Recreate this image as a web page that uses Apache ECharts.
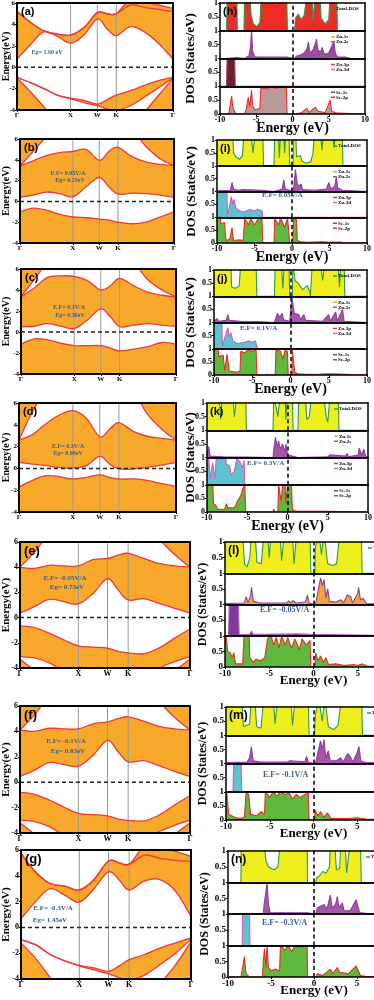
<!DOCTYPE html>
<html>
<head>
<meta charset="utf-8">
<script src="https://cdn.jsdelivr.net/npm/echarts@6/dist/echarts.min.js"></script>
<style>
  html, body { margin: 0; padding: 0; background: #fff; }
  #chart { width: 374px; height: 1000px; }
</style>
</head>
<body>
<div id="chart"></div>
<script>
// ---- band structure: k-path Γ-X-W-K-Γ ----
var kPath = [0, 0.25, 0.5, 0.75, 1, 1.25, 1.5, 1.68, 1.854, 2.12, 2.38, 2.65, 2.914];
var kTicks = [0, 1, 1.5, 1.854, 2.914];
var kNames = ['Γ', 'X', 'W', 'K', 'Γ'];

// (a) pristine
var a_c1 = [0.75, 2.1, 3.3, 2.9, 2.25, 3.0, 4.5, 3.6, 2.95, 3.8, 3.3, 2.2, 0.75];
var a_c2 = [5.2, 4.2, 3.4, 3.1, 3.0, 3.7, 5.1, 5.0, 5.0, 5.8, 5.6, 5.4, 5.2];
var a_c3 = [5.2, 4.2, 3.4, 3.1, 3.0, 3.7, 5.1, 5.0, 5.0, 6.3, 6.1, 5.8, 5.5];
var a_v1 = [-0.94, -1.45, -2.0, -2.6, -2.9, -3.1, -3.45, -3.05, -2.6, -2.2, -1.7, -1.25, -0.94];
var a_v2 = [-1.0, -2.3, -3.7, -5.2, -6.5, -7, -7, -7, -7, -5.8, -4.2, -2.6, -1.05];
var a_v3 = [-0.94, -1.45, -2.0, -2.6, -2.95, -3.3, -3.6, -3.9, -4.05, -3.6, -2.8, -1.9, -1.0];
// (b) E.F = 0.05 V/A
var b_c1 = [0.4, 0.6, 0.9, 0.75, 0.45, 1.4, 2.3, 1.4, 0.7, 0.8, 0.75, 0.6, 0.4];
var b_c2 = [3.4, 3.9, 4.4, 4.7, 4.8, 5.0, 3.95, 4.8, 5.2, 4.3, 3.8, 3.55, 3.45];
var b_c3 = [3.4, 4.8, 6.2, 7, 7, 7, 7, 7, 7, 6.8, 5.3, 4.1, 3.45];
var b_v1 = [-1.0, -0.65, -0.85, -1.25, -1.5, -1.57, -1.7, -1.8, -2.0, -2.15, -2.0, -1.5, -1.0];
// (c) E.F = 0.1 V/A
var c_c1 = [0.5, 0.55, 0.8, 0.55, 0.33, 1.15, 2.2, 1.45, 0.5, 0.65, 0.8, 0.65, 0.55];
var c_c2 = [3.35, 4.2, 5.2, 5.35, 5.3, 4.9, 4.0, 4.4, 5.1, 4.4, 3.8, 3.5, 3.35];
var c_c3 = [3.35, 5.0, 6.6, 7, 7, 7, 7, 7, 7, 6.6, 5.0, 4.0, 3.35];
var c_v1 = [-1.15, -0.65, -0.75, -1.07, -1.3, -1.3, -1.3, -1.53, -1.8, -1.63, -1.4, -1.0, -1.15];
// (d) E.F = 0.3 V/A
var d_c1 = [0.55, 0.4, 0.25, 0.1, 0.03, 0.25, 1.1, 0.4, -0.05, -0.05, 0.1, 0.3, 0.55];
var d_c2 = [2.6, 3.1, 4.1, 4.9, 5.3, 4.6, 2.9, 3.6, 4.2, 3.4, 2.95, 2.75, 2.6];
var d_c3 = [2.6, 5.2, 7, 7, 7, 7, 7, 7, 7, 7, 5.0, 3.6, 2.6];
var d_v1 = [-1.7, -1.1, -0.67, -0.76, -0.97, -0.82, -0.6, -0.82, -0.97, -0.97, -1.1, -1.4, -1.65];
// (e) E.F = -0.05 V/A
var e_c1 = [0.35, 0.87, 1.45, 1.26, 1.08, 1.9, 3.1, 2.2, 1.4, 1.5, 1.13, 0.74, 0.35];
var e_c2 = [4.0, 3.9, 4.15, 4.1, 4.1, 4.6, 4.7, 4.95, 5.1, 4.7, 4.3, 4.1, 4.0];
var e_c3 = [4.0, 5.2, 6.6, 7, 7, 7, 7, 7, 7, 7, 6.2, 5.0, 4.0];
var e_v1 = [-0.66, -0.8, -1.24, -1.76, -2.24, -2.34, -2.42, -2.68, -2.8, -2.87, -2.42, -1.63, -0.9];
var e_v2 = [-3.1, -3.2, -3.6, -4.3, -5, -5, -5, -5, -5, -4.6, -4.0, -3.5, -3.1];
var e_v3 = [-3.3, -4.2, -5, -6, -6, -6, -6, -6, -6, -6, -5, -4.2, -3.3];
// (f) E.F = -0.1 V/A
var f_c1 = [0.45, 0.95, 1.55, 1.4, 1.25, 2.1, 3.3, 2.4, 1.6, 1.7, 1.3, 0.85, 0.45];
var f_c2 = [4.1, 4.0, 4.25, 4.2, 4.2, 4.6, 4.75, 5.0, 5.15, 4.8, 4.4, 4.2, 4.1];
var f_c3 = [4.1, 5.3, 6.7, 7, 7, 7, 7, 7, 7, 7, 6.3, 5.1, 4.1];
var f_v1 = [-0.8, -0.95, -1.4, -1.95, -2.45, -2.55, -2.65, -2.9, -3.0, -3.05, -2.6, -1.8, -1.05];
var f_v2 = [-3.0, -3.1, -3.5, -4.2, -5, -5, -5, -5, -5, -4.5, -3.9, -3.4, -3.0];
var f_v3 = [-3.2, -4.1, -5, -6, -6, -6, -6, -6, -6, -6, -5, -4.1, -3.2];
// (g) E.F = -0.3 V/A
var g_c1 = [0.67, 2.0, 3.0, 2.5, 1.96, 3.0, 4.3, 3.7, 2.9, 3.6, 3.7, 2.8, 0.85];
var g_c2 = [5.75, 4.3, 3.4, 3.2, 2.9, 3.7, 5.15, 5.0, 4.9, 5.6, 5.35, 5.2, 5.1];
var g_c3 = [5.75, 4.3, 3.4, 3.2, 2.9, 3.7, 5.15, 5.0, 4.9, 6.3, 6.2, 5.9, 5.5];
var g_v1 = [-0.95, -1.34, -2.1, -2.6, -2.94, -3.14, -3.4, -3.0, -2.5, -2.1, -1.6, -1.2, -0.82];
var g_v2 = [-1.2, -2.4, -3.9, -5.5, -7, -7, -7, -7, -7, -6, -4.4, -2.9, -1.1];
var g_v3 = [-0.95, -1.34, -2.1, -2.6, -2.98, -3.3, -3.6, -3.9, -4.1, -3.7, -2.9, -2.0, -0.95];

// ---- DOS: [energy (eV), states/eV] ----
var h_tot = [[-10,0],[-9.1,0],[-9.0,1.3],[-7.7,1.3],[-7.6,0],[-6.7,0],[-6.6,1.3],[-5.9,1.3],[-5.7,0.55],[-5.4,0.25],[-4.9,0.15],[-4.5,0.3],[-4.3,1.3],[-0.8,1.3],[-0.7,0],[0.3,0],[0.4,0.45],[0.8,0.6],[1.2,0.4],[1.6,0.55],[2.0,1.3],[2.7,1.3],[2.8,0.35],[3.0,0.3],[3.15,1.3],[3.8,1.3],[3.95,0.45],[4.5,0.25],[5.0,0.4],[5.2,1.3],[6.1,1.3],[6.2,0],[10,0]];
var h_zn = [[-10,0],[-9.1,0],[-9.0,0.03],[-7.7,0.03],[-7.6,0],[-6.6,0],[-6.5,0.05],[-6.0,0.1],[-5.8,0.4],[-5.65,1.0],[-5.5,0.25],[-5.2,0.06],[-4.3,0.05],[-0.8,0.05],[-0.7,0],[0.3,0],[0.5,0.08],[1.0,0.12],[1.6,0.2],[2.0,0.35],[2.2,0.6],[2.4,0.2],[2.8,0.3],[3.1,0.5],[3.3,0.7],[3.5,0.3],[3.9,0.25],[4.1,0.4],[4.4,0.15],[5.0,0.2],[5.5,0.5],[5.7,0.6],[5.9,0.2],[6.2,0.05],[7.3,0.05],[7.5,0.12],[7.7,0.03],[8,0],[10,0]];
var h_zn3 = [[-10,0],[-9.1,0],[-9.0,1.3],[-8.0,1.3],[-7.9,0],[10,0]];
var h_se = [[-10,0],[-8.8,0],[-8.6,0.3],[-8.4,0.65],[-8.2,0.2],[-8.0,0.1],[-7.8,0],[-6.6,0],[-6.4,0.15],[-6.1,0.6],[-5.9,0.25],[-5.65,0.85],[-5.5,0.3],[-5.2,0.15],[-4.5,0.2],[-4.35,0.95],[-3.5,0.9],[-3.0,0.97],[-2.2,0.93],[-1.5,0.97],[-0.85,1.0],[-0.75,0],[0.35,0],[0.5,0.06],[1.2,0.04],[2.0,0.2],[2.3,0.05],[3.15,0.25],[3.5,0.1],[4.5,0.05],[5.2,0.5],[5.4,0.1],[6.2,0.03],[8,0.02],[10,0]];

var i_tot = [[-10,1.3],[-7.9,1.3],[-7.8,0.5],[-7.5,0.35],[-7.0,0.25],[-6.6,0.4],[-6.4,1.3],[-5.5,1.3],[-5.2,0.5],[-4.9,1.3],[-3.9,1.3],[-3.8,0],[-2.4,0],[-2.3,1.3],[-1.8,1.3],[-1.7,0.3],[-1.5,1.3],[-1.1,1.3],[-1.0,0.5],[-0.8,1.3],[-0.4,1.3],[-0.3,0],[0.15,0],[0.2,1.3],[0.5,1.3],[0.6,0.35],[1.1,0.4],[1.3,0.2],[1.8,0.1],[2.5,0.15],[2.8,0.5],[3.0,1.3],[3.8,1.3],[4.0,0.6],[4.2,1.3],[5.4,1.3],[5.6,0.7],[5.8,1.3],[6.7,1.3],[6.8,0],[10,0]];
var i_zn = [[-10,0.03],[-8.2,0.05],[-8.0,0.35],[-7.8,0.1],[-7.3,0.05],[-6.5,0.08],[-4,0.05],[-3.9,0],[-2.4,0],[-2.3,0.05],[-1.3,0.1],[-1.1,0.45],[-0.9,0.1],[-0.3,0.05],[-0.25,0],[0.15,0],[0.25,0.2],[0.45,0.85],[0.7,0.3],[1.0,0.2],[1.2,0.3],[1.4,0.08],[3,0.05],[4.6,0.1],[4.9,0.35],[5.2,0.1],[5.7,0.2],[5.9,0.55],[6.1,0.15],[6.7,0.05],[6.8,0],[10,0]];
var i_zn3 = [[-10,1.3],[-8.7,1.3],[-8.6,0.1],[-8.4,0.3],[-8.1,0.8],[-7.9,0.5],[-7.7,0.7],[-7.5,0.35],[-7.0,0.25],[-6.5,0.2],[-6.0,0.25],[-5.5,0.3],[-5.0,0.25],[-4.5,0.3],[-4.0,0.25],[-3.9,0],[10,0]];
var i_se = [[-10,1.3],[-9.6,1.3],[-9.5,0.75],[-9.0,0.8],[-8.8,0.1],[-8.3,0.15],[-8.0,0.6],[-7.8,0.1],[-7.0,0.12],[-6.5,0.1],[-6.3,0.95],[-5.8,0.7],[-5.5,0.95],[-5.0,0.7],[-4.5,0.95],[-4.0,0.9],[-3.9,0],[-2.4,0],[-2.3,0.95],[-1.8,0.7],[-1.5,0.97],[-1.0,0.6],[-0.6,0.95],[-0.4,0.9],[-0.3,0],[0.1,0],[0.2,0.95],[0.6,0.9],[0.7,0.1],[1.2,0.05],[2,0.03],[4,0.05],[5,0.03],[6.5,0.04],[6.8,0],[10,0]];

var j_tot = [[-10,1.3],[-7.8,1.3],[-7.7,0.35],[-7.2,0.3],[-6.7,0.4],[-6.5,1.3],[-4.5,1.3],[-4.4,0],[-2.1,0],[-2.0,1.3],[-1.2,1.3],[-1.0,0.3],[-0.8,1.3],[-0.2,1.3],[-0.1,0],[0.25,0],[0.3,1.3],[0.6,0.6],[1.0,0.5],[1.6,0.25],[2.2,0.4],[2.5,0.2],[2.6,0],[2.8,0],[2.85,1.3],[3.9,1.3],[4.2,0.6],[4.5,1.3],[6.2,1.3],[6.4,0.35],[6.6,1.3],[7.0,1.3],[7.1,0],[10,0]];
var j_zn = [[-10,0.05],[-9.6,0.15],[-9.4,0.05],[-8.4,0.08],[-8.2,0.3],[-8.0,0.08],[-6.5,0.05],[-4.4,0.04],[-4.3,0],[-2.1,0],[-2.0,0.1],[-1.7,0.35],[-1.4,0.2],[-1.1,0.35],[-0.9,0.1],[-0.1,0.05],[0,0],[0.15,0],[0.2,0.95],[0.5,0.35],[1.1,0.3],[1.3,0.1],[1.75,0.3],[2.0,0.08],[4.2,0.05],[5.0,0.3],[5.2,0.05],[5.9,0.4],[6.1,0.05],[6.8,0.5],[7.0,0.05],[7.2,0],[10,0]];
var j_zn3 = [[-10,1.3],[-9.0,1.3],[-8.9,0.1],[-8.5,0.5],[-8.2,0.8],[-8.0,0.45],[-7.8,0.6],[-7.5,0.3],[-7.0,0.2],[-6.0,0.25],[-5.5,0.3],[-5.0,0.25],[-4.6,0.3],[-4.4,0.25],[-4.3,0],[10,0]];
var j_se = [[-10,1.3],[-9.5,1.3],[-9.4,0.7],[-8.8,0.75],[-8.6,0.15],[-8.3,0.8],[-8.0,0.15],[-7.0,0.1],[-6.6,0.15],[-6.5,0.9],[-6.0,0.85],[-5.5,0.95],[-5.0,0.9],[-4.5,0.95],[-4.4,0],[-2.0,0],[-1.9,0.95],[-1.3,0.9],[-1.0,0.6],[-0.7,0.95],[-0.4,0.9],[-0.3,0],[0.2,0],[0.25,0.95],[0.45,0.9],[0.55,0.1],[1,0.05],[2,0.03],[4,0.04],[5,0.05],[6.5,0.04],[8,0.02],[10,0]];

var k_tot = [[-10,1.3],[-8.5,1.3],[-8.3,0.4],[-8.1,1.3],[-6.8,1.3],[-6.6,0.5],[-6.3,1.3],[-5.2,1.3],[-5.1,0],[-1.8,0],[-1.7,1.3],[-1.2,0.5],[-0.9,1.3],[-0.3,1.3],[-0.2,0.4],[0,1.3],[0.6,1.3],[0.7,0],[1.3,0],[1.4,1.3],[2.2,1.3],[2.4,0.4],[2.7,0.5],[3.0,1.3],[4.5,1.3],[4.8,0.5],[5.0,0.3],[5.3,1.3],[6.3,1.3],[6.4,0],[10,0]];
var k_zn = [[-10,0.05],[-9.8,0.4],[-9.6,0.05],[-8,0.03],[-5.2,0.02],[-5.1,0],[-1.8,0],[-1.7,0.3],[-1.5,0.75],[-1.3,0.4],[-1.1,0.6],[-0.9,0.3],[-0.6,0.5],[-0.3,0.2],[-0.2,0.5],[0,0.1],[0.6,0.05],[0.7,0],[1.3,0],[1.4,0.03],[5,0.03],[5.3,0.1],[5.5,0.03],[7.2,0.05],[7.4,0.15],[7.6,0.03],[8.8,0.1],[8.9,0.35],[9.2,0.1],[9.5,0.3],[9.7,0.05],[10,0]];
var k_zn3 = [[-10,0.3],[-9.8,1.0],[-9.6,0.2],[-9.3,0.8],[-9.0,0.2],[-8.8,1.3],[-7.7,1.3],[-7.6,0.75],[-7.2,0.7],[-7.0,0.35],[-6.6,0.5],[-6.3,0.95],[-5.9,0.85],[-5.6,0.6],[-5.4,0.9],[-5.3,0],[10,0]];
var k_se = [[-10,1.3],[-9.3,1.3],[-9.2,0.3],[-8.9,0.25],[-8.7,0.1],[-7.8,0.1],[-7.6,0.3],[-7.4,0.15],[-6.6,0.15],[-6.2,0.4],[-5.8,0.6],[-5.5,0.9],[-5.3,1.0],[-5.2,0],[-1.8,0],[-1.7,0.1],[-1.6,0],[-1.2,0],[-1.1,1.0],[-0.8,0.4],[-0.6,1.0],[-0.3,0.95],[-0.2,0.3],[0,1.0],[0.5,1.0],[0.6,0.1],[1,0.03],[5,0.03],[10,0]];

var l_tot = [[-10,1.3],[-8.0,1.3],[-7.8,0.3],[-7.5,0.2],[-7.2,0.5],[-7.0,1.3],[-6.6,1.3],[-6.4,0.35],[-5.9,0.3],[-5.6,1.3],[-5.2,1.3],[-5.0,0.5],[-4.8,1.3],[-3.8,1.3],[-3.6,0.4],[-3.3,1.3],[-2.4,1.3],[-2.2,0.3],[-1.9,1.3],[-0.4,1.3],[-0.3,0],[0.15,0],[0.2,0.8],[0.6,1.3],[0.9,0.6],[1.2,1.3],[1.6,0.3],[2.2,0.25],[2.6,0.3],[3.0,1.3],[5.4,1.3],[5.5,0],[10,0]];
var l_zn = [[-10,0.03],[-7.8,0.05],[-7.6,0.25],[-7.4,0.05],[-7.1,0.3],[-7.0,0.55],[-6.8,0.1],[-6,0.05],[-3,0.05],[-2.8,0.12],[-2.6,0.05],[-2.3,0.12],[-2.0,0.05],[-0.9,0.08],[-0.7,0.3],[-0.5,0.05],[-0.3,0],[0.15,0],[0.3,0.1],[0.8,0.85],[1.0,0.6],[1.2,0.8],[1.4,0.2],[1.6,0.5],[1.8,0.1],[2.5,0.08],[3.1,0.15],[3.4,0.05],[3.8,0.3],[4.2,0.25],[4.4,0.05],[5.0,0.35],[5.1,0.55],[5.3,0.15],[5.6,0.2],[6,0.03],[10,0]];
var l_zn3 = [[-10,0],[-9.6,0],[-9.5,1.3],[-8.5,1.3],[-8.4,0.03],[-7.2,0.05],[-7.0,0.15],[-6.8,0.05],[-5,0.05],[-2,0.06],[-0.5,0.05],[-0.3,0],[10,0]];
var l_se = [[-10,1.3],[-9.8,1.3],[-9.7,0.5],[-9.4,0.45],[-9.2,0.3],[-9.0,0.45],[-8.8,0.1],[-8.0,0.1],[-7.8,1.3],[-7.3,1.3],[-7.2,0.3],[-6.8,0.15],[-6.5,0.25],[-6.0,0.2],[-5.5,0.3],[-5.3,0.25],[-5.2,0.9],[-4.8,1.0],[-4.5,0.7],[-4.2,0.95],[-3.9,0.6],[-3.6,1.0],[-3.2,0.7],[-2.9,0.95],[-2.5,0.6],[-2.1,0.9],[-1.6,0.55],[-1.3,0.9],[-0.8,0.7],[-0.4,0.85],[-0.3,0],[0.15,0],[0.25,0.45],[0.5,0.2],[0.8,0.35],[1.1,0.15],[1.4,0.3],[1.7,0.08],[2.5,0.1],[3.5,0.05],[4.5,0.08],[5,0.05],[5.5,0.1],[6,0.03],[10,0]];

var m_tot = [[-10,1.3],[-8.2,1.3],[-8.0,0.3],[-7.3,0.4],[-7.1,1.3],[-6.7,1.3],[-6.5,0.3],[-6.0,0.25],[-5.7,1.3],[-4.6,1.3],[-4.4,0.4],[-4.1,1.3],[-2.6,1.3],[-2.4,0.35],[-2.1,1.3],[-0.6,1.3],[-0.5,0],[0.1,0],[0.2,0.7],[0.6,1.3],[1.0,0.5],[1.3,1.3],[1.7,0.3],[2.3,0.2],[2.8,0.35],[3.2,1.3],[5.5,1.3],[5.6,0],[10,0]];
var m_zn = [[-10,0.03],[-7.6,0.05],[-7.3,0.2],[-7.1,0.6],[-6.9,0.1],[-6,0.05],[-3,0.05],[-2.7,0.1],[-2.5,0.04],[-1,0.06],[-0.8,0.25],[-0.6,0.05],[-0.5,0],[0.1,0],[0.3,0.1],[0.8,0.8],[1.0,0.5],[1.2,0.85],[1.4,0.2],[1.7,0.45],[1.9,0.1],[2.6,0.1],[3.1,0.2],[3.4,0.05],[3.9,0.35],[4.2,0.25],[4.5,0.05],[5.0,0.4],[5.2,0.6],[5.4,0.1],[6,0.03],[10,0]];
var m_zn3 = [[-10,0],[-9.2,0],[-9.1,1.3],[-8.3,1.3],[-8.2,0],[10,0]];
var m_se = [[-10,1.3],[-9.8,1.3],[-9.7,0.2],[-9.0,0.1],[-8.4,0.05],[-7.9,0.1],[-7.7,1.0],[-7.4,0.9],[-7.2,0.2],[-6.5,0.15],[-6.0,0.3],[-5.6,0.2],[-5.5,1.0],[-5.0,0.8],[-4.6,1.0],[-4.2,0.85],[-3.8,1.0],[-3.3,0.9],[-2.8,0.95],[-2.4,0.75],[-2.0,0.9],[-1.5,0.8],[-1.0,0.9],[-0.6,0.95],[-0.5,0],[0.1,0],[0.2,0.35],[0.5,0.15],[0.8,0.3],[1.2,0.1],[1.6,0.25],[2,0.05],[4,0.05],[5,0.08],[6,0.03],[10,0]];

var n_tot = [[-10,0],[-8.5,0],[-8.45,1.3],[-5.8,1.3],[-5.6,0.7],[-5.3,0.5],[-5.0,0.45],[-4.6,0.4],[-4.2,0.5],[-3.9,1.3],[-0.8,1.3],[-0.75,0],[0.2,0],[0.3,0.15],[0.6,0.2],[1.0,0.35],[1.4,0.3],[1.8,0.5],[1.9,1.3],[2.4,1.3],[2.6,0.4],[3.0,0.45],[3.1,1.3],[3.6,1.3],[3.8,0.3],[4.0,0.35],[4.2,1.3],[5.4,1.3],[5.5,0],[10,0]];
var n_zn = [[-10,0],[-5.9,0],[-5.8,0.3],[-5.6,0.25],[-5.45,1.0],[-5.3,0.3],[-5.1,0.05],[-0.8,0.04],[-0.75,0],[0.2,0],[0.4,0.2],[0.8,0.25],[1.2,0.3],[1.5,0.15],[1.9,0.6],[2.1,0.2],[2.5,0.3],[2.7,0.55],[2.9,0.2],[3.3,0.35],[3.5,0.1],[4.2,0.1],[4.9,0.45],[5.1,0.4],[5.3,0.05],[6,0.02],[10,0]];
var n_zn3 = [[-10,0],[-8.35,0],[-8.3,1.3],[-7.5,1.3],[-7.45,0],[10,0]];
var n_se = [[-10,0],[-8.5,0],[-8.3,0.3],[-8.1,0.65],[-7.9,0.1],[-7.7,0.1],[-7.5,0],[-6.0,0],[-5.9,0.5],[-5.75,0.9],[-5.6,0.3],[-5.45,1.0],[-5.3,0.3],[-5.0,0.2],[-4.5,0.25],[-4.0,0.2],[-3.9,1.0],[-3.4,0.85],[-3.0,1.0],[-2.6,0.8],[-2.2,1.0],[-1.5,0.95],[-0.8,1.0],[-0.75,0],[0.2,0],[0.4,0.1],[1.0,0.05],[1.9,0.25],[2.2,0.1],[2.7,0.3],[3.0,0.15],[4,0.1],[4.9,0.35],[5.1,0.3],[5.4,0.05],[6,0.02],[10,0]];

// ---- styles / layout ----
var SERIF = "'Liberation Serif', 'DejaVu Serif', serif";
var SANS = "'Liberation Sans', Arial, sans-serif";
var ORANGE = '#f8a82a', RED = '#f2363a', NOTE = '#3d5d8c';
var TENSION = 0.18;
var FLOOR_E = -9, CEIL_E = 7;

var bandPanels = [
  {tag: '(a)', box: [17, 3, 156, 107], fs: 7, curves: [a_c1, a_c2, a_c3, a_v1, a_v2, a_v3],
   fills: [[0, 1], [1, 2], [5, 3], ['F', 4]], notes: [['Eg= 1.60 eV', 47, 52]]},
  {tag: '(b)', box: [20, 139, 154, 104], fs: 7, curves: [b_c1, b_c2, b_c3, b_v1],
   fills: [[0, 1], [2, 'C'], ['F', 3]], notes: [['E.F= 0.05V/A', 68, 173], ['Eg= 0.29eV', 70, 180]]},
  {tag: '(c)', box: [21, 269, 155, 105], fs: 7, curves: [c_c1, c_c2, c_c3, c_v1],
   fills: [[0, 1], [2, 'C'], ['F', 3]], notes: [['E.F= 0.1V/A', 69, 307], ['Eg= 0.36eV', 70, 315]]},
  {tag: '(d)', box: [19, 403, 157, 109], fs: 7, curves: [d_c1, d_c2, d_c3, d_v1],
   fills: [[0, 1], [2, 'C'], ['F', 3]], notes: [['E.F= 0.3V/A', 68, 446], ['Eg= 0.00eV', 68, 453]]},
  {tag: '(e)', box: [20, 542, 170, 126], fs: 8, curves: [e_c1, e_c2, e_c3, e_v1, e_v2, e_v3],
   fills: [[0, 1], [2, 'C'], [4, 3], ['F', 5]], notes: [['E.F= -0.05V/A', 65, 578], ['Eg= 0.73eV', 67, 587]]},
  {tag: '(f)', box: [20, 706, 170, 127], fs: 8, curves: [f_c1, f_c2, f_c3, f_v1, f_v2, f_v3],
   fills: [[0, 1], [2, 'C'], [4, 3], ['F', 5]], notes: [['E.F= -0.1V/A', 66, 741], ['Eg= 0.83eV', 68, 751]]},
  {tag: '(g)', box: [21, 850, 170, 129], fs: 8, curves: [g_c1, g_c2, g_c3, g_v1, g_v2, g_v3],
   fills: [[0, 1], [1, 2], [5, 3], ['F', 4]], notes: [['E.F= -0.3V/A', 53, 908], ['Eg= 1.45eV', 50, 920]]}
];

var PAL_H = [['#ee2b25', '#2e9a48'], ['#9b4d9e', '#8e3f9a'], ['#6a1f2e', '#b03060'], ['#b99a98', '#f02828']];
var PAL_STD = [['#f0ef1e', '#2e9a48'], ['#a456a8', '#8e3f9a'], ['#5cc4d0', '#d45bb8'], ['#5dba3c', '#f02828']];
var PAL_L = [['#f0ef1e', '#2e9a48'], ['#f2a43a', '#8e3f9a'], ['#7d3a96', '#b05ab8'], ['#5dba3c', '#f02828']];
var legendNames = [[['Total-DOS', '#2e9a48']], [['Zn-1s', '#f5a623'], ['Zn-2s', '#9b4d9e']],
                   [['Zn-3p', '#f03030'], ['Zn-3d', '#e060c0']], [['Se-1s', '#3a6a8a'], ['Se-2p', '#f03030']]];

var dosPanels = [
  {tag: '(h)', box: [220, 3, 145, 111], sets: [h_tot, h_zn, h_zn3, h_se], pal: PAL_H, ef: null, yx: 191, fs: 8, nfs: 14},
  {tag: '(i)', box: [217, 140, 150, 103], sets: [i_tot, i_zn, i_zn3, i_se], pal: PAL_STD, ef: ['E.F= 0.05V/A', 262, 195], yx: 192, fs: 8, nfs: 14},
  {tag: '(j)', box: [214, 270, 153, 105], sets: [j_tot, j_zn, j_zn3, j_se], pal: PAL_STD, ef: ['E.F= 0.1V/A', 240, 328], yx: 191, fs: 8, nfs: 14},
  {tag: '(k)', box: [207, 403, 161, 109], sets: [k_tot, k_zn, k_zn3, k_se], pal: PAL_STD, ef: ['E.F= 0.3V/A', 247, 463], yx: 191, fs: 8, nfs: 14},
  {tag: '(l)', box: [225, 542, 177, 125], sets: [l_tot, l_zn, l_zn3, l_se], pal: PAL_L, ef: ['E.F= -0.05V/A', 260, 610], yx: 203, fs: 9, nfs: 13},
  {tag: '(m)', box: [226, 707, 175, 113], sets: [m_tot, m_zn, m_zn3, m_se], pal: PAL_STD, ef: ['E.F= -0.1V/A', 263, 775], yx: 203, fs: 9, nfs: 13},
  {tag: '(n)', box: [228, 851, 172, 126], sets: [n_tot, n_zn, n_zn3, n_se], pal: PAL_STD, ef: ['E.F= -0.3V/A', 262, 923], yx: 205, fs: 9, nfs: 13}
];

var grids = [], xAxes = [], yAxes = [], series = [], graphics = [];

function addGrid(l, t, w, h, xMain, yMain, bw) {
  var gi = grids.length;
  grids.push({left: l, top: t, width: w, height: h, containLabel: false, outerBoundsMode: 'none'});
  var xi = xAxes.length, yi = yAxes.length;
  xMain.gridIndex = gi;
  xAxes.push(xMain);
  xAxes.push({type: 'value', gridIndex: gi, position: 'top', min: xMain.min, max: xMain.max,
    axisLine: {onZero: false, lineStyle: {color: '#000', width: bw}}, axisTick: {show: false},
    axisLabel: {show: false}, splitLine: {show: false}, z: 6});
  yMain.gridIndex = gi;
  yAxes.push(yMain);
  yAxes.push({type: 'value', gridIndex: gi, position: 'right', min: yMain.min, max: yMain.max,
    axisLine: {onZero: false, lineStyle: {color: '#000', width: bw}}, axisTick: {show: false},
    axisLabel: {show: false}, splitLine: {show: false}, z: 6});
  return {xi: xi, yi: yi};
}

function txt(text, x, y, font, color, align, rot) {
  graphics.push({type: 'text', x: x, y: y, rotation: rot || 0, z: 20,
    style: {text: text, font: font, fill: color || '#000', align: align || 'center', verticalAlign: 'middle'}});
}

// smooth curve through pixel points (cardinal spline as cubic beziers)
function curvePath(pts, start) {
  var d = (start ? 'M' : 'L') + pts[0][0].toFixed(2) + ' ' + pts[0][1].toFixed(2);
  var n = pts.length;
  for (var i = 0; i < n - 1; i++) {
    var p0 = pts[Math.max(i - 1, 0)], p1 = pts[i], p2 = pts[i + 1], p3 = pts[Math.min(i + 2, n - 1)];
    d += ' C' + (p1[0] + (p2[0] - p0[0]) * TENSION).toFixed(2) + ' ' + (p1[1] + (p2[1] - p0[1]) * TENSION).toFixed(2) +
         ' ' + (p2[0] - (p3[0] - p1[0]) * TENSION).toFixed(2) + ' ' + (p2[1] - (p3[1] - p1[1]) * TENSION).toFixed(2) +
         ' ' + p2[0].toFixed(2) + ' ' + p2[1].toFixed(2);
  }
  return d;
}

var floorLine = kPath.map(function () { return FLOOR_E; });
var ceilLine = kPath.map(function () { return CEIL_E; });

// ---- band structure panels ----
bandPanels.forEach(function (p, pi) {
  var b = p.box;
  var ax = addGrid(b[0], b[1], b[2], b[3],
    {type: 'value', min: 0, max: 2.914, position: 'bottom',
     axisLine: {onZero: false, lineStyle: {color: '#000', width: 2}},
     axisTick: {show: true, customValues: kTicks, length: 2, lineStyle: {color: '#000'}},
     axisLabel: {customValues: kTicks, margin: 2, fontSize: p.fs, fontWeight: 'bold', fontFamily: SERIF, color: '#000',
       formatter: function (v) {
         for (var i = 0; i < kTicks.length; i++) if (Math.abs(kTicks[i] - v) < 1e-6) return kNames[i];
         return '';
       }},
     splitLine: {show: false}, z: 6},
    {type: 'value', min: -4, max: 6, interval: 2,
     axisLine: {onZero: false, lineStyle: {color: '#000', width: 2}},
     axisTick: {length: 2, lineStyle: {color: '#000'}},
     axisLabel: {margin: 2, fontSize: p.fs, fontWeight: 'bold', fontFamily: SERIF, color: '#000'},
     splitLine: {show: false}, z: 6},
    2);

  series.push({
    type: 'custom', xAxisIndex: ax.xi, yAxisIndex: ax.yi, silent: true, animation: false, z: 2,
    data: [[0, 0]],
    renderItem: function (params, api) {
      var cs = params.coordSys;
      function pts(arr) { return kPath.map(function (k, i) { return api.coord([k, arr[i]]); }); }
      var kids = [];
      p.fills.forEach(function (f) {
        var lo = f[0] === 'F' ? floorLine : p.curves[f[0]];
        var hi = f[1] === 'C' ? ceilLine : p.curves[f[1]];
        var d = curvePath(pts(lo), true) + ' ' + curvePath(pts(hi).reverse(), false) + ' Z';
        kids.push({type: 'path', shape: {pathData: d}, style: {fill: ORANGE, stroke: null}});
      });
      kTicks.slice(1, 4).forEach(function (k) {
        var top = api.coord([k, 6]), bot = api.coord([k, -4]);
        kids.push({type: 'line', shape: {x1: top[0], y1: top[1], x2: bot[0], y2: bot[1]},
          style: {stroke: '#9a9a9a', lineWidth: 1}});
      });
      p.curves.forEach(function (c) {
        kids.push({type: 'path', shape: {pathData: curvePath(pts(c), true)},
          style: {fill: null, stroke: RED, lineWidth: 1.3}});
      });
      var z0 = api.coord([0, 0]), z1 = api.coord([2.914, 0]);
      kids.push({type: 'line', shape: {x1: z0[0], y1: z0[1], x2: z1[0], y2: z1[1]},
        style: {stroke: '#222', lineWidth: 1.5, lineDash: [4, 3]}});
      return {type: 'group', children: kids,
        clipPath: {type: 'rect', shape: {x: cs.x, y: cs.y, width: cs.width, height: cs.height}}};
    }
  });

  txt(p.tag, b[0] + 4, b[1] + 9, 'bold ' + (pi < 4 ? 11 : 13) + 'px ' + SANS, '#000', 'left');
  txt('Energy(eV)', 6.5, b[1] + b[3] / 2, 'bold ' + (p.fs + 3) + 'px ' + SERIF, '#000', 'center', Math.PI / 2);
  p.notes.forEach(function (n) {
    txt(n[0], n[1], n[2], 'bold ' + (p.fs - 1) + 'px ' + SERIF, NOTE, 'center');
  });
});

// ---- DOS panels ----
dosPanels.forEach(function (p, pi) {
  var b = p.box, sh = b[3] / 4;
  for (var s = 0; s < 4; s++) {
    var last = s === 3;
    var t = b[1] + sh * s;
    var ax = addGrid(b[0], t, b[2], sh,
      {type: 'value', min: -10, max: 10, interval: 5, position: 'bottom',
       axisLine: {onZero: false, lineStyle: {color: '#000', width: 1.5}},
       axisTick: {show: last, length: 2, lineStyle: {color: '#000'}},
       axisLabel: {show: last, margin: 2, fontSize: p.fs, fontWeight: 'bold', fontFamily: SERIF, color: '#000'},
       splitLine: {show: false}, z: 6},
      {type: 'value', min: 0, max: 1, interval: 0.5,
       axisLine: {onZero: false, lineStyle: {color: '#000', width: 1.5}},
       axisTick: {length: 2, lineStyle: {color: '#000'}},
       axisLabel: {margin: 2, showMinLabel: last, fontSize: p.fs, fontWeight: 'bold', fontFamily: SERIF, color: '#000'},
       splitLine: {show: false}, z: 6},
      1.5);
    series.push({type: 'line', xAxisIndex: ax.xi, yAxisIndex: ax.yi, symbol: 'none', silent: true,
      animation: false, data: p.sets[s], z: 2,
      lineStyle: {color: p.pal[s][1], width: 1.1},
      areaStyle: {color: p.pal[s][0], opacity: 1},
      markLine: {silent: true, symbol: 'none', label: {show: false}, z: 5, animation: false,
        lineStyle: {color: '#000', width: 1.5, type: [4, 3]}, data: [{xAxis: 0}]}});
    // legend entries
    var right = b[0] + b[2];
    if (s === 0 || right <= 374) {
      legendNames[s].forEach(function (e, ei) {
        var ly = t + 6 + ei * 5;
        graphics.push({type: 'line', z: 20, shape: {x1: right - 34, y1: ly, x2: right - 30, y2: ly},
          style: {stroke: e[1], lineWidth: 1.5}});
        txt(e[0], right - 29, ly, 'bold 5px ' + SERIF, '#000', 'left');
      });
    }
  }
  txt(p.tag, b[0] + 3, b[1] + 9, 'bold ' + (pi < 4 ? 11 : 12) + 'px ' + SANS, '#000', 'left');
  txt('DOS (States/eV)', p.yx, b[1] + b[3] / 2, 'bold ' + (pi < 4 ? 13 : 12) + 'px ' + SERIF, '#000', 'center', Math.PI / 2);
  txt('Energy (eV)', b[0] + b[2] / 2, b[1] + b[3] + 14, 'bold ' + p.nfs + 'px ' + SERIF, '#000', 'center');
  if (p.ef) txt(p.ef[0], p.ef[1], p.ef[2], 'bold ' + (pi < 4 ? 7 : 8) + 'px ' + SERIF, NOTE, 'left');
});

var chart = echarts.init(document.getElementById('chart'), null, {renderer: 'canvas'});
chart.setOption({
  animation: false,
  backgroundColor: '#fff',
  grid: grids,
  xAxis: xAxes,
  yAxis: yAxes,
  series: series,
  graphic: {elements: graphics}
});
</script>
</body>
</html>
